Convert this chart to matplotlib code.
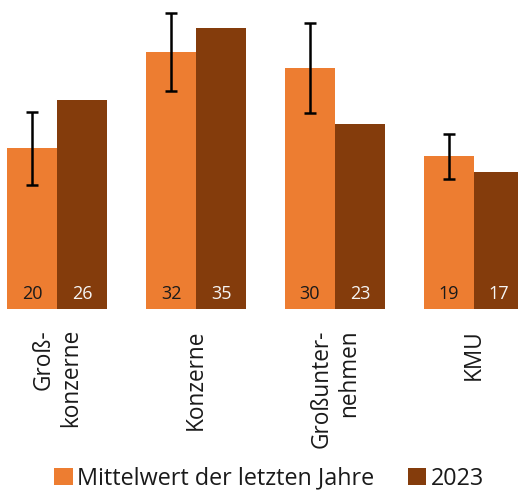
import matplotlib
matplotlib.use("Agg")
import matplotlib.pyplot as plt
import numpy as np

plt.rcParams['font.family'] = ['Open Sans', 'DejaVu Sans']

categories = ["Groß-\nkonzerne", "Konzerne", "Großunter-\nnehmen", "KMU"]
mean_values = [20, 32, 30, 19]
values_2023 = [26, 35, 23, 17]
mean_err = [4.5, 4.8, 5.6, 2.8]
series_names = ["Mittelwert der letzten Jahre", "2023"]

orange = "#ED7D31"
brown = "#843C0C"

W, H, DPI = 518, 493, 100
fig = plt.figure(figsize=(W / DPI, H / DPI), dpi=DPI)

base_px = 309          # bar baseline, pixels from top
px_per_unit = 8.03
pitch = 139.0          # pixels between groups
first_center = 57.0

ax = fig.add_axes([0, (H - base_px) / H, 1, base_px / H])
ax.set_xlim(-first_center / pitch, (W - first_center) / pitch)
ax.set_ylim(0, base_px / px_per_unit)

x = np.arange(len(categories))
bw = 50 / pitch

b1 = ax.bar(x - bw / 2, mean_values, width=bw, color=orange, label=series_names[0])
b2 = ax.bar(x + bw / 2, values_2023, width=bw, color=brown, label=series_names[1])

ax.errorbar(x - bw / 2, mean_values, yerr=mean_err, fmt='none', ecolor='black',
            elinewidth=1.8, capsize=4, capthick=1.8)

for xi, v in zip(x - bw / 2, mean_values):
    ax.annotate(f"{v}", xy=(xi, 0), xytext=(0, 10.5), textcoords='offset points',
                ha='center', va='center', fontsize=13, color='#1a1a1a')
for xi, v in zip(x + bw / 2, values_2023):
    ax.annotate(f"{v}", xy=(xi, 0), xytext=(0, 10.5), textcoords='offset points',
                ha='center', va='center', fontsize=13, color='#f5f5f5')

ax.set_xticks(x)
ax.set_xticklabels(categories, rotation=90, fontsize=16.3, color='#1a1a1a',
                   ha='center', va='top', multialignment='right')
ax.tick_params(axis='x', length=0, pad=14.5)
ax.set_yticks([])
for s in ax.spines.values():
    s.set_visible(False)

fig.legend(handles=[b1, b2], labels=series_names, loc='center',
           bbox_to_anchor=(0.52, 0.029), ncol=2, frameon=False, fontsize=16.8,
           handlelength=0.78, handleheight=0.78, handletextpad=0.2,
           columnspacing=1.45, labelcolor='#1a1a1a')

fig.savefig("out.png", dpi=DPI)
